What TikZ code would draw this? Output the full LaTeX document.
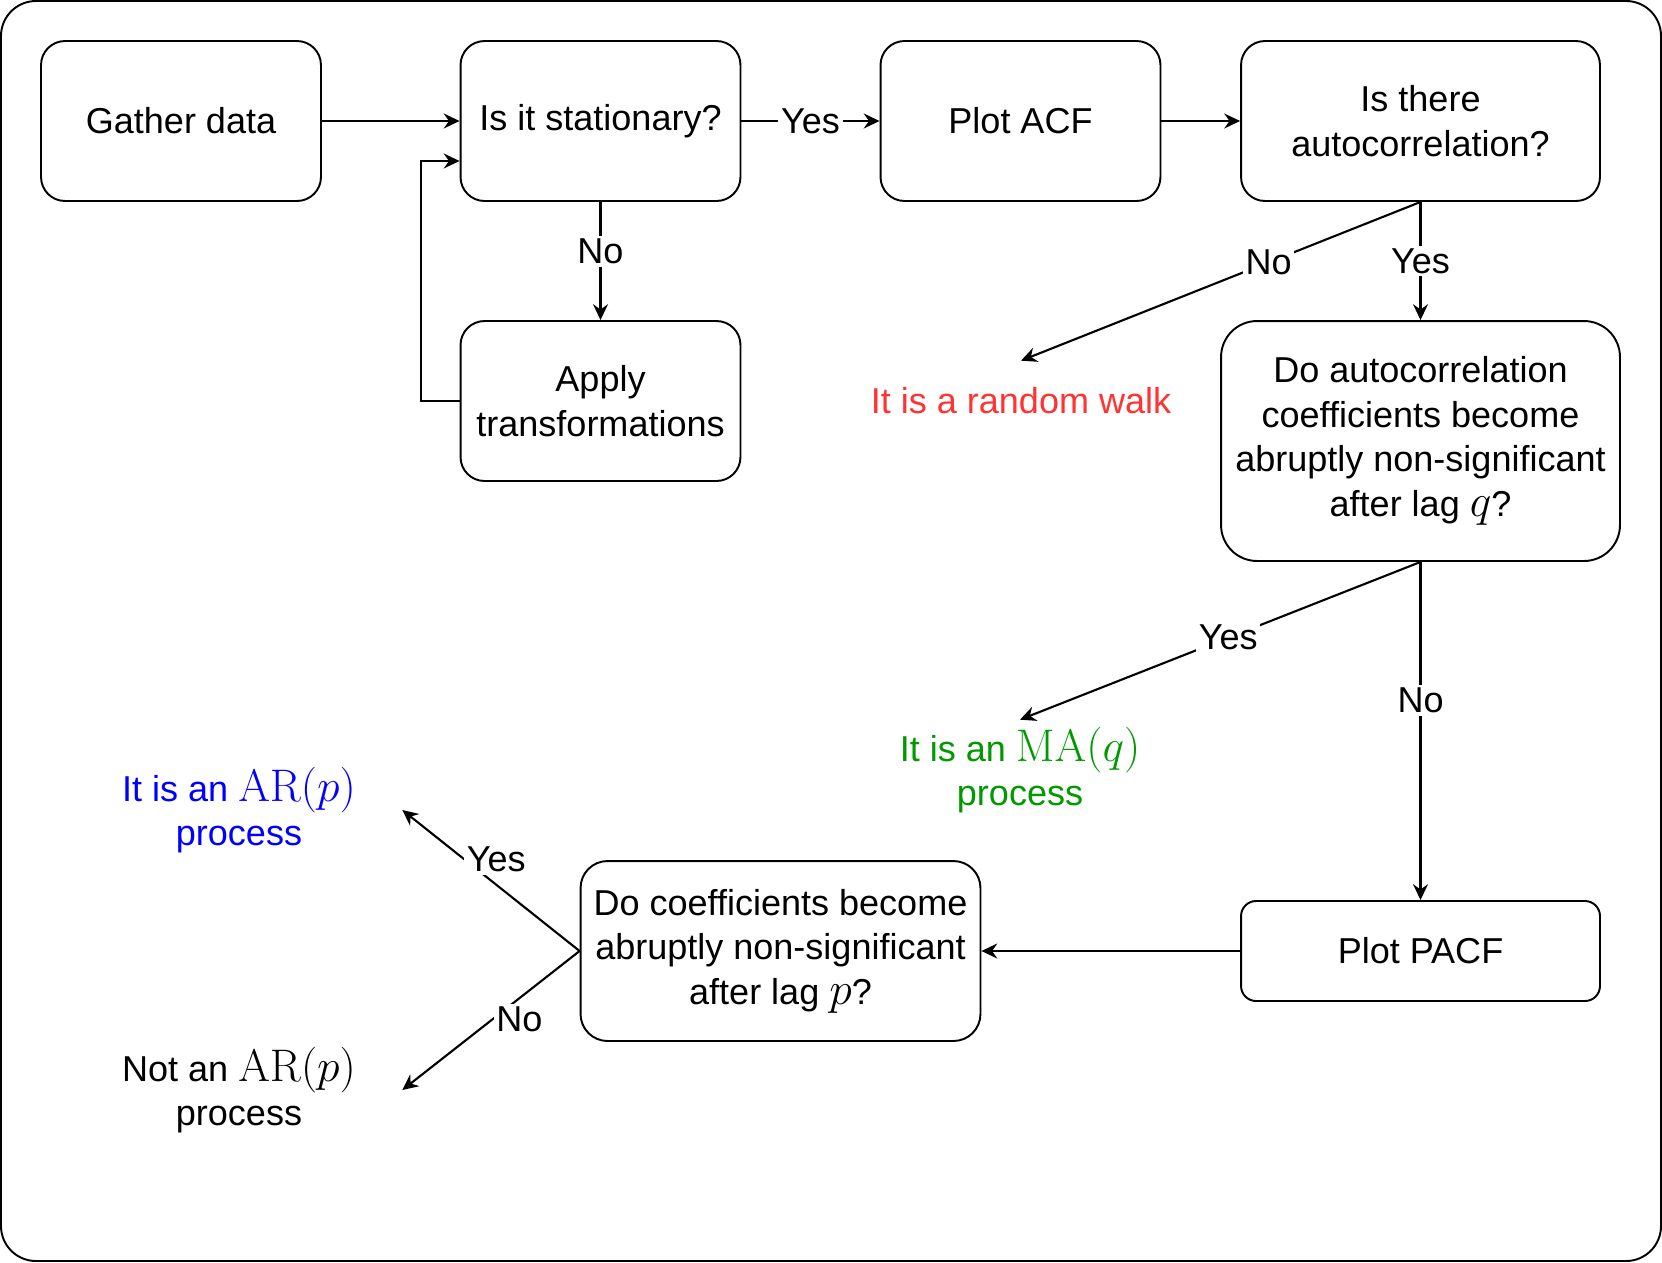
\RequirePackage{fix-cm}
\documentclass[tikz,border=0pt]{standalone}
\usepackage[no-math]{fontspec}
\setmainfont{Liberation Sans}
\usepackage{xcolor}
\usepackage{tikz}
\usetikzlibrary{arrows.meta}

\definecolor{walkred}{HTML}{FF3333}
\definecolor{magreen}{HTML}{009900}
\definecolor{arblue}{HTML}{0000FF}

\newcommand{\mth}[1]{{\fontsize{26}{25.3}\selectfont$#1$}}

\tikzset{
  box/.style={draw, line width=1.1pt, align=center, inner sep=2pt,
    minimum width=5.6cm, minimum height=3.2cm, rounded corners=0.48cm},
  outcome/.style={align=center, inner sep=0pt},
  lbl/.style={fill=white, inner sep=1.5pt},
  flow/.style={-{Stealth[length=9pt,width=8.5pt,inset=3pt]}, line width=1.2pt}
}

\begin{document}
\begin{tikzpicture}[x=0.02cm, y=-0.02cm,
  every node/.style={font=\fontsize{20.5}{25.3}\selectfont}]
\useasboundingbox (0,0) rectangle (1662,1262);

% Frame
\draw[line width=1.1pt, rounded corners=0.7cm] (1,1) rectangle (1661,1261);

% Boxes
\node[box] (gather) at (181,121) {Gather data};
\node[box] (stat) at (600.5,121) {Is it stationary?};
\node[box] (apply) at (600.5,401) {Apply\\transformations};
\node[box] (acf) at (1020.5,121) {Plot ACF};
\node[box, minimum width=7.18cm] (autoc) at (1420.5,121) {Is there\\autocorrelation?};
\node[box, minimum width=7.98cm, minimum height=4.8cm, rounded corners=0.72cm] (cutq) at (1420.5,441)
  {Do autocorrelation\\coefficients become\\abruptly non-significant\\after lag \mth{q}?};
\node[box, minimum width=7.18cm, minimum height=2cm, rounded corners=0.3cm] (pacf) at (1420.5,951) {Plot PACF};
\node[box, minimum width=8cm, minimum height=3.6cm, rounded corners=0.54cm] (cutp) at (780.5,951)
  {Do coefficients become\\abruptly non-significant\\after lag \mth{p}?};

% Outcomes
\node[outcome, text=walkred, minimum height=1.6cm] (walk) at (1021,401) {It is a random walk};
\node[outcome, text=magreen, minimum height=2cm] (ma) at (1020,770) {It is an \mth{\mathrm{MA}(q)}\\process};
\node[outcome, text=arblue, minimum width=6.52cm] (ar) at (239,810) {It is an \mth{\mathrm{AR}(p)}\\process};
\node[outcome, minimum width=6.52cm] (notar) at (239,1090) {Not an \mth{\mathrm{AR}(p)}\\process};

% Arrows
\draw[flow] (gather) -- (stat);
\draw[flow] (stat) -- node[lbl] {Yes} (acf);
\draw[flow] (stat) -- node[lbl, pos=0.42] {No} (apply);
\draw[flow] (apply.west) -- ++(-39,0) |- ([yshift=-0.8cm]stat.west);
\draw[flow] (acf) -- (autoc);
\draw[flow] (autoc.south) -- node[lbl, pos=0.38] {No} (walk.north);
\draw[flow] (autoc.south) -- node[lbl] {Yes} (cutq.north);
\draw[flow] (cutq.south) -- node[lbl, pos=0.48] {Yes} (ma.north);
\draw[flow] (cutq.south) -- node[lbl, pos=0.41] {No} (pacf.north);
\draw[flow] (pacf) -- (cutp);
\draw[flow] (cutp.west) -- node[lbl, pos=0.47, yshift=0.5cm] {Yes} (ar.east);
\draw[flow] (cutp.west) -- node[lbl, pos=0.34, yshift=-0.42cm] {No} (notar.east);

\end{tikzpicture}
\end{document}
